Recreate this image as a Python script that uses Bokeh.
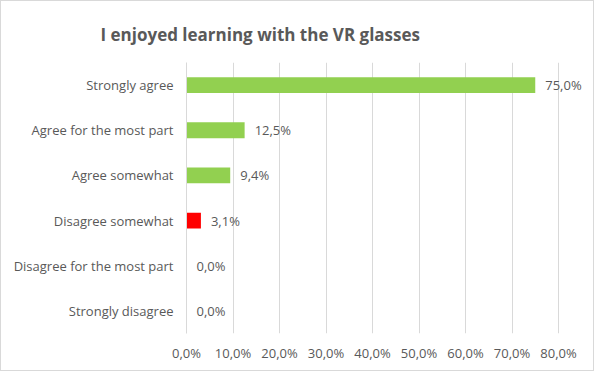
from bokeh.plotting import figure
from bokeh.models import FactorRange, Range1d, FixedTicker, ColumnDataSource
from bokeh.core.properties import value
from bokeh.embed import file_html
from bokeh.resources import INLINE

categories = ["Strongly agree", "Agree for the most part", "Agree somewhat",
              "Disagree somewhat", "Disagree for the most part", "Strongly disagree"]
values = [75.0, 12.5, 9.4, 3.1, 0.0, 0.0]
colors = ["#92D050", "#92D050", "#92D050", "#FF0000", "#92D050", "#92D050"]
ticks = [0, 10, 20, 30, 40, 50, 60, 70, 80]
tick_labels = ["0,0%", "10,0%", "20,0%", "30,0%", "40,0%", "50,0%", "60,0%", "70,0%", "80,0%"]
title_text = "I enjoyed learning with the VR glasses"

FONT = "Open Sans"
GREY = "#595959"

labels = [f"{v:.1f}".replace(".", ",") + "%" for v in values]
src = ColumnDataSource(dict(cat=categories, val=values, color=colors, label=labels))

# canvas 594x371 plus a 1px chart border; frame spans x 186..590 (page coords),
# so that the data labels are not clipped; 80 % sits at x=558
p = figure(width=594, height=371, output_backend="svg", toolbar_location=None,
           y_range=FactorRange(factors=list(reversed(categories)), range_padding=0),
           x_range=Range1d(0, 80 * (590 - 186) / (558 - 186)),
           min_border_left=185, min_border_right=5, min_border_top=61, min_border_bottom=39,
           title=title_text)
p.styles = {"border": "1px solid #D9D9D9"}
p.outline_line_color = None
p.background_fill_color = "white"
p.border_fill_color = "white"

p.title.align = "left"
p.title.offset = -86
p.title.standoff = 34
p.title.text_font = FONT
p.title.text_font_size = "17px"
p.title.text_font_style = "bold"
p.title.text_color = GREY

p.hbar(y="cat", right="val", left=0, height=0.35, color="color", source=src, line_color=None)
p.text(x="val", y="cat", text="label", source=src, x_offset=10, text_baseline="middle",
       text_align="left", text_font=value(FONT), text_font_size="13px", text_color=GREY)

p.xaxis.ticker = FixedTicker(ticks=ticks)
p.xaxis.major_label_overrides = {t: l for t, l in zip(ticks, tick_labels)}
p.xaxis.axis_line_color = None
p.xaxis.major_tick_line_color = None
p.xaxis.minor_tick_line_color = None
p.xaxis.major_label_standoff = 4
p.xaxis.major_label_text_font = FONT
p.xaxis.major_label_text_font_size = "13px"
p.xaxis.major_label_text_color = GREY

p.yaxis.axis_line_color = "#D9D9D9"
p.yaxis.major_tick_line_color = None
p.yaxis.minor_tick_line_color = None
p.yaxis.major_label_standoff = 7
p.yaxis.major_label_text_font = FONT
p.yaxis.major_label_text_font_size = "13px"
p.yaxis.major_label_text_color = GREY

p.ygrid.grid_line_color = None
p.xgrid.grid_line_color = "#D9D9D9"
p.xgrid.grid_line_width = 1

open("out.html", "w").write(file_html(p, INLINE))
